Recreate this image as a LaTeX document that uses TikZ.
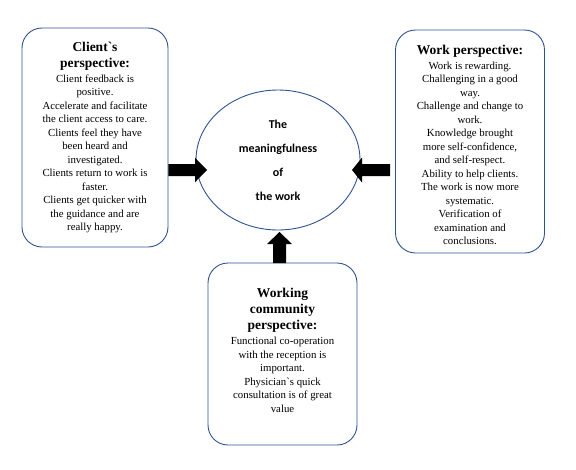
\documentclass[tikz,border=0pt]{standalone}
\usepackage{fontspec}
\setmainfont{Liberation Serif}
\newfontfamily\ellfont{Carlito}
\usetikzlibrary{calc,shapes.geometric}
\definecolor{bordercol}{HTML}{2F528F}
\tikzset{
  persbox/.style={draw=bordercol, line width=0.9pt, rounded corners=20pt, align=center, inner sep=0pt,
    font=\fontsize{10.8}{13.5}\selectfont},
  ellbox/.style={ellipse, draw=bordercol, line width=0.9pt, align=center, inner sep=0pt,
    font=\ellfont\bfseries\fontsize{12}{24}\selectfont},
  blockarrow/.style={fill=black}
}
\newcommand\headfont{\fontsize{13.5}{15}\selectfont\bfseries}
\begin{document}
\begin{tikzpicture}[x=1pt,y=-1pt]
\useasboundingbox (0,0) rectangle (576,469);

\node[persbox, minimum width=146pt, minimum height=219pt] (client) at (95,137.5)
{{\headfont Client\textasciigrave s}\\[2.5pt]
 {\headfont perspective:}\\[1.5pt]
 Client feedback is\\ positive.\\ Accelerate and facilitate\\ the client access to care.\\
 Clients feel they have\\ been heard and\\ investigated.\\ Clients return to work is\\
 faster.\\ Clients get quicker with\\ the guidance and are\\ really happy.};

\node[persbox, minimum width=149pt, minimum height=223pt] (work) at (470,141.5)
{\rule{0pt}{6pt}\\[-3pt]
 {\headfont Work perspective:}\\[1.5pt]
 Work is rewarding.\\ Challenging in a good\\ way.\\ Challenge and change to\\ work.\\
 Knowledge brought\\ more self-confidence,\\ and self-respect.\\ Ability to help clients.\\
 The work is now more\\ systematic.\\ Verification of\\ examination and\\ conclusions.};

\node[persbox, minimum width=149pt, minimum height=182pt] (community) at (282.5,354)
{{\headfont Working}\\[2.5pt]
 {\headfont community}\\[2.5pt]
 {\headfont perspective:}\\[1.5pt]
 Functional co-operation\\ with the reception is\\ important.\\ Physician\textasciigrave s quick\\
 consultation is of great\\ value\\[-10pt] \strut};

\node[ellbox, minimum width=164pt, minimum height=140pt] (meaning) at (278,160)
{The\\ meaningfulness\\ of\\ the work};

% arrows
\coordinate (lt) at (client.east |- 0,170);
\coordinate (lh) at (207,170);
\fill[blockarrow] ($(lt)+(0,-6)$) -- ($(lh)+(-12,-6)$) -- ($(lh)+(-12,-12.3)$) -- (lh)
  -- ($(lh)+(-12,12.3)$) -- ($(lh)+(-12,6)$) -- ($(lt)+(0,6)$) -- cycle;

\coordinate (rt) at (390,170);
\coordinate (rh) at (352,170);
\fill[blockarrow] ($(rt)+(0,-6)$) -- ($(rh)+(10,-6)$) -- ($(rh)+(10,-12.5)$) -- (rh)
  -- ($(rh)+(10,12.5)$) -- ($(rh)+(10,6)$) -- ($(rt)+(0,6)$) -- cycle;

\coordinate (ut) at (279.5,263);
\coordinate (uh) at (279.5,232);
\fill[blockarrow] ($(ut)+(-6.5,0)$) -- ($(uh)+(-6.5,12)$) -- ($(uh)+(-12.5,12)$) -- (uh)
  -- ($(uh)+(12.5,12)$) -- ($(uh)+(6.5,12)$) -- ($(ut)+(6.5,0)$) -- cycle;
\end{tikzpicture}
\end{document}
